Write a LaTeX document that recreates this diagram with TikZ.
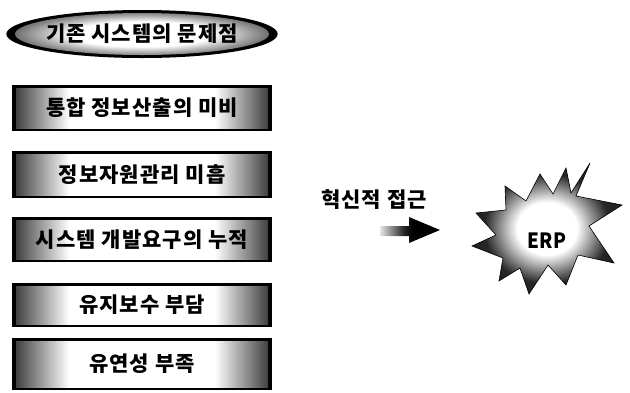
\documentclass[tikz,border=0pt]{standalone}
\usepackage{fontspec}
\newfontfamily\kr{Noto Sans CJK KR}[LetterSpace=5]
\newfontfamily\krl{Noto Sans CJK KR}
\usetikzlibrary{shapes.geometric}
\pgfdeclarehorizontalshading{boxshade}{100bp}{color(0bp)=(black!80); color(25bp)=(black!80); color(36bp)=(white); color(64bp)=(white); color(75bp)=(black!80); color(100bp)=(black!80)}
\pgfdeclareradialshading{ellshade}{\pgfpoint{0bp}{0bp}}{color(0bp)=(white); color(13bp)=(white); color(25bp)=(black!65); color(50bp)=(black!65)}
\pgfdeclareradialshading{burst}{\pgfpoint{0bp}{0bp}}{color(0bp)=(white); color(10bp)=(white); color(21bp)=(black!85); color(50bp)=(black)}
\pgfdeclarehorizontalshading{arrowshade}{100bp}{color(0bp)=(black!10); color(25bp)=(black!10); color(45bp)=(black!85); color(52bp)=(black); color(100bp)=(black)}
\tikzset{
  txt/.style={font=\kr\bfseries\fontsize{21pt}{23pt}\selectfont, text=black},
  probbox/.style={rectangle, fill=black, minimum width=260pt, inner sep=0pt, txt,
    path picture={\shade[shading=boxshade]
      ([xshift=4pt,yshift=-3pt]path picture bounding box.north west) rectangle
      ([xshift=-4pt,yshift=3pt]path picture bounding box.south east);}},
  titleell/.style={ellipse, fill=black, minimum width=261pt, minimum height=48pt, inner sep=0pt, txt,
    path picture={\shade[shading=ellshade] (path picture bounding box.center) ellipse [x radius=127pt, y radius=21pt];}},
}
\begin{document}
\begin{tikzpicture}[x=1pt,y=-1pt]
\useasboundingbox (0,0) rectangle (630,392);
\node[titleell] (title) at (142,34) {기존 시스템의 문제점};
\node[probbox, minimum height=46pt] (b1) at (142,108) {통합 정보산출의 미비};
\node[probbox, minimum height=47pt] (b2) at (142,174.5) {정보자원관리 미흡};
\node[probbox, minimum height=45pt] (b3) at (142,239.5) {시스템 개발요구의 누적};
\node[probbox, minimum height=44pt] (b4) at (142,305) {유지보수 부담};
\node[probbox, minimum height=52pt] (b5) at (142,364) {유연성 부족};
\node[txt, inner sep=0pt] (lab) at (374,200) {혁신적 접근};
\shade[shading=arrowshade] (380,226) -- (409,226) -- (409,217) -- (440,230) -- (409,243) -- (409,236) -- (380,236) -- cycle;
\shade[shading=burst, draw=black, line width=0.6pt]
  (590,163) -- (576,196) -- (622,205) -- (589,226) -- (614,263) -- (578,255) -- (566,285)
  -- (548,265) -- (529,294) -- (520,268) -- (499,281) -- (503,258) -- (472,246) -- (496,235)
  -- (476,213) -- (506,210) -- (505,186) -- (526,201) -- (540,174) -- (553,194) -- (566,168)
  -- (571,193) -- cycle;
\node[font=\krl\bfseries\fontsize{21pt}{23pt}\selectfont, inner sep=0pt, xscale=0.9] (erp) at (547,241) {ERP};
\end{tikzpicture}
\end{document}
